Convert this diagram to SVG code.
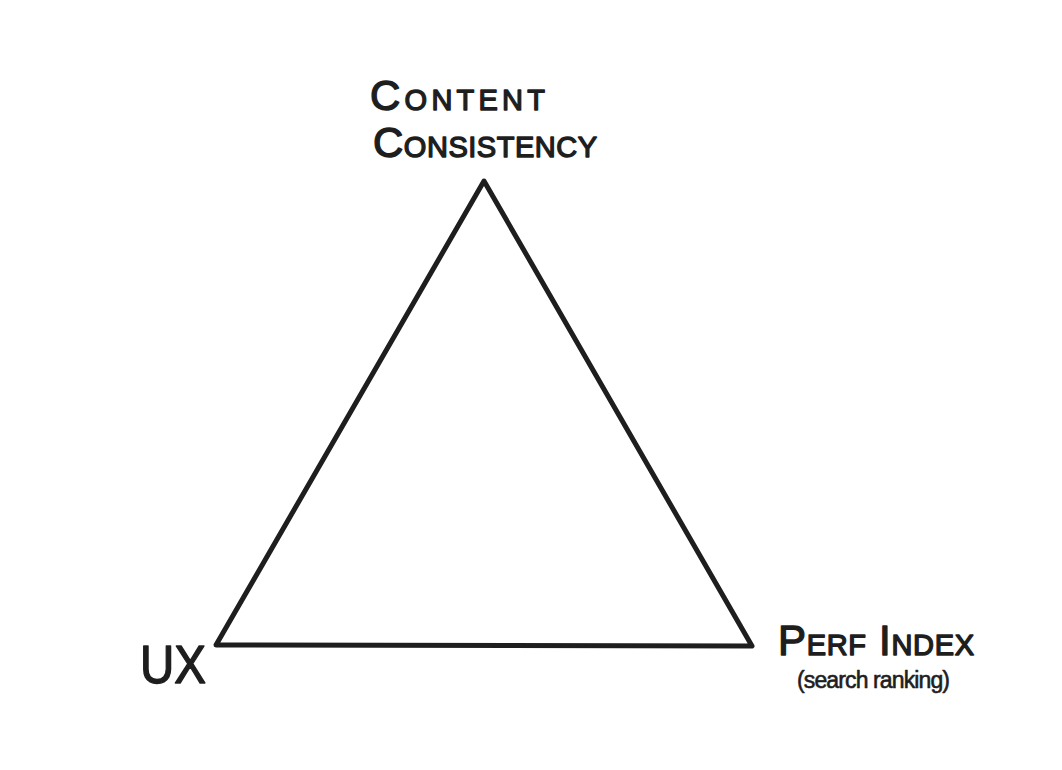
<svg xmlns="http://www.w3.org/2000/svg" width="1062" height="770" viewBox="0 0 1062 770">
  <style>
    .edge { fill: none; stroke: #1e1e1e; stroke-width: 5; stroke-linejoin: round; stroke-linecap: round; }
    .lbl { font-family: "Liberation Sans", "DejaVu Sans", sans-serif; fill: #1e1e1e; stroke: #1e1e1e; stroke-width: 1.4; stroke-linejoin: round; }
    .caps { font-variant: small-caps; font-size: 42px; }
    .big { font-size: 53px; }
    .note { font-size: 23px; stroke-width: 0.6; }
  </style>
  <rect width="1062" height="770" fill="#ffffff"/>
  <g id="connectors">
    <path class="edge" d="M484,181 L752,646 L216,645 Z"/>
  </g>
  <g id="node-content">
    <text class="lbl caps" x="370" y="110" textLength="175" lengthAdjust="spacing">Content</text>
    <text class="lbl caps" x="373" y="157" textLength="224" lengthAdjust="spacing">Consistency</text>
  </g>
  <g id="node-ux">
    <text class="lbl big" x="140" y="683" textLength="66" lengthAdjust="spacingAndGlyphs">UX</text>
  </g>
  <g id="node-perf">
    <text class="lbl caps" x="778" y="655" textLength="196" lengthAdjust="spacing">Perf Index</text>
    <text class="lbl note" x="797" y="688" textLength="153" lengthAdjust="spacing">(search ranking)</text>
  </g>
</svg>
